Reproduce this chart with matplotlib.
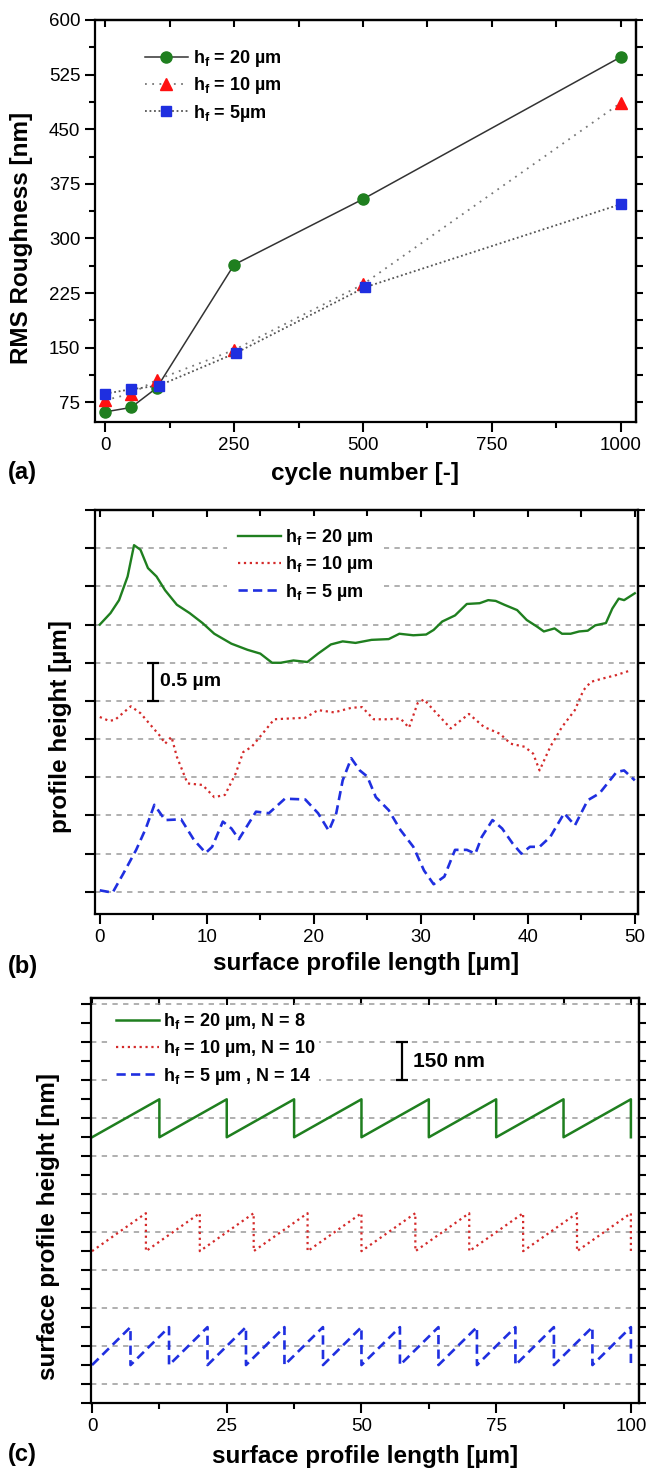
import matplotlib
matplotlib.use("Agg")
import matplotlib.pyplot as plt
from matplotlib.ticker import MultipleLocator

plt.rcParams['font.family'] = ['Liberation Sans', 'DejaVu Sans']
plt.rcParams['mathtext.default'] = 'regular'

# ---- (a) RMS roughness vs cycle number ----
cycles = [0, 50, 100, 250, 500, 1000]
cycles_5 = [0, 50, 104, 254, 504, 1000]
rms_20 = [62, 68, 95, 264, 354, 549]
rms_10 = [78, 87, 106, 147, 237, 486]
rms_5 = [87, 93, 98, 143, 233, 347]
labels_a = [r'h$_f$ = 20 µm', r'h$_f$ = 10 µm', r'h$_f$ = 5µm']

# ---- (b) measured surface profiles (offset, µm) ----
prof20_x = [0, 1.0, 1.8, 2.6, 3.2, 3.8, 4.5, 5.3, 6.1, 7.2, 8.4, 9.6, 10.7, 12.3, 13.8,
            15.0, 16.1, 16.9, 18.1, 19.4, 20.4, 21.6, 22.7, 23.9, 25.4, 27.0, 28.0, 29.3,
            30.5, 31.2, 32.0, 33.2, 34.3, 35.5, 36.3, 37.0, 37.8, 39.0, 39.9, 40.9, 41.5,
            42.5, 43.2, 44.0, 44.8, 45.6, 46.3, 47.3, 47.9, 48.5, 49.0, 50.0]
prof20_y = [3.50, 3.65, 3.82, 4.13, 4.54, 4.48, 4.24, 4.13, 3.95, 3.76, 3.65, 3.52, 3.38,
            3.25, 3.17, 3.12, 3.00, 3.00, 3.03, 3.01, 3.12, 3.24, 3.28, 3.26, 3.30, 3.31,
            3.38, 3.36, 3.37, 3.43, 3.54, 3.62, 3.77, 3.78, 3.82, 3.81, 3.76, 3.69, 3.56,
            3.47, 3.41, 3.45, 3.38, 3.38, 3.41, 3.42, 3.49, 3.52, 3.71, 3.84, 3.82, 3.91]

prof10_x = [0, 0.85, 1.4, 2.9, 3.8, 4.9, 5.7, 6.1, 6.7, 7.2, 8.2, 9.6, 10.7, 11.7, 12.7,
            13.4, 14.2, 15.2, 16.3, 17.7, 19.2, 20.4, 21.9, 23.5, 24.5, 25.6, 27.0, 28.1,
            28.9, 29.7, 30.3, 31.2, 32.8, 33.6, 34.5, 35.9, 37.4, 38.4, 39.7, 40.5, 41.1,
            42.1, 43.2, 44.4, 45.2, 45.9, 46.9, 48.3, 49.6]
prof10_y = [2.29, 2.24, 2.25, 2.43, 2.34, 2.16, 2.03, 1.94, 2.03, 1.77, 1.42, 1.40, 1.24,
            1.27, 1.55, 1.83, 1.90, 2.07, 2.26, 2.27, 2.28, 2.38, 2.35, 2.41, 2.42, 2.26,
            2.26, 2.27, 2.15, 2.47, 2.52, 2.38, 2.14, 2.23, 2.33, 2.16, 2.07, 1.94, 1.90,
            1.81, 1.59, 1.90, 2.16, 2.38, 2.64, 2.75, 2.79, 2.84, 2.90]

prof5_x = [0, 1.2, 2.2, 3.4, 4.3, 5.1, 6.1, 7.6, 8.8, 9.9, 10.5, 11.5, 12.3, 13.0, 14.6,
           15.8, 17.3, 19.2, 20.4, 21.4, 22.1, 22.7, 23.5, 24.3, 25.0, 25.8, 27.0, 28.1,
           29.3, 30.3, 31.2, 32.2, 33.2, 34.3, 35.1, 35.7, 36.7, 37.6, 38.6, 39.4, 40.2,
           41.1, 42.1, 43.4, 44.4, 45.6, 46.7, 48.3, 49.0, 50.0]
prof5_y = [0.02, -0.01, 0.24, 0.55, 0.83, 1.14, 0.94, 0.95, 0.68, 0.51, 0.59, 0.92, 0.83,
           0.69, 1.05, 1.03, 1.22, 1.21, 1.03, 0.80, 1.03, 1.46, 1.75, 1.59, 1.51, 1.24,
           1.07, 0.81, 0.59, 0.28, 0.10, 0.20, 0.55, 0.55, 0.50, 0.72, 0.94, 0.83, 0.63,
           0.50, 0.59, 0.59, 0.72, 1.03, 0.87, 1.20, 1.29, 1.57, 1.59, 1.46]
labels_b = [r'h$_f$ = 20 µm', r'h$_f$ = 10 µm', r'h$_f$ = 5 µm']

# ---- (c) idealised sawtooth profiles (offset, nm) ----
saw20_x = [0, 12.5, 12.5, 25, 25, 37.5, 37.5, 50, 50, 62.5, 62.5, 75, 75, 87.5, 87.5, 100, 100]
saw20_y = [975, 1125, 975, 1125, 975, 1125, 975, 1125, 975, 1125, 975, 1125, 975, 1125, 975,
           1125, 975]
saw10_x = [0, 10, 10, 20, 20, 30, 30, 40, 40, 50, 50, 60, 60, 70, 70, 80, 80, 90, 90, 100, 100]
saw10_y = [525, 675, 525, 675, 525, 675, 525, 675, 525, 675, 525, 675, 525, 675, 525, 675,
           525, 675, 525, 675, 525]
saw5_x = [0, 7.14, 7.14, 14.29, 14.29, 21.43, 21.43, 28.57, 28.57, 35.71, 35.71, 42.86, 42.86,
          50, 50, 57.14, 57.14, 64.29, 64.29, 71.43, 71.43, 78.57, 78.57, 85.71, 85.71,
          92.86, 92.86, 100, 100]
saw5_y = [75, 225, 75, 225, 75, 225, 75, 225, 75, 225, 75, 225, 75, 225, 75, 225, 75, 225,
          75, 225, 75, 225, 75, 225, 75, 225, 75, 225, 75]
labels_c = [r'h$_f$ = 20 µm, N = 8', r'h$_f$ = 10 µm, N = 10', r'h$_f$ = 5 µm , N = 14']

GREEN = '#1f7f1f'
RED = '#d42a2a'
BLUE = '#1f2fe0'
GRID = '#9a9a9a'
LBL = 17.5
TICK = 13.5
LEG = 13


def style(ax, xmaj, xmin, ymaj, ymin, yminor_len=4):
    ax.xaxis.set_major_locator(MultipleLocator(xmaj))
    ax.xaxis.set_minor_locator(MultipleLocator(xmin))
    ax.yaxis.set_major_locator(MultipleLocator(ymaj))
    ax.yaxis.set_minor_locator(MultipleLocator(ymin))
    ax.tick_params(which='both', direction='out', width=1.5, labelsize=TICK, pad=3.5)
    ax.tick_params(which='major', length=7)
    ax.tick_params(which='minor', length=4)
    ax.tick_params(axis='y', which='minor', length=yminor_len)
    for s in ax.spines.values():
        s.set_linewidth(1.6)
    top = ax.secondary_xaxis('top')
    top.xaxis.set_major_locator(MultipleLocator(xmin))
    top.tick_params(direction='in', length=5, width=1.5, labeltop=False)
    top.spines['top'].set_linewidth(1.6)
    right = ax.secondary_yaxis('right')
    right.yaxis.set_major_locator(MultipleLocator(ymin))
    right.tick_params(direction='out', length=5, width=1.5, labelright=False)
    right.spines['right'].set_linewidth(1.6)


fig = plt.figure(figsize=(6.47, 14.69), dpi=100)

# ---------------- panel (a) ----------------
ax1 = fig.add_axes([0.1468, 0.7127, 0.8362, 0.2737])
ax1.plot(cycles, rms_20, '-', color='#333333', lw=1.1, marker='o', ms=8,
         mfc=GREEN, mec=GREEN, label=labels_a[0])
ax1.plot(cycles, rms_10, linestyle=(0, (1, 3)), color='#777777', lw=1.3, marker='^', ms=9,
         mfc='#ff1010', mec='#ff1010', label=labels_a[1])
ax1.plot(cycles_5, rms_5, linestyle=(0, (1, 1.5)), color='#555555', lw=1.3, marker='s', ms=7.5,
         mfc=BLUE, mec=BLUE, label=labels_a[2])
ax1.set_xlim(-20, 1030)
ax1.set_ylim(48, 600)
style(ax1, 250, 125, 75, 37.5)
ax1.set_ylabel('RMS Roughness [nm]', fontsize=LBL, fontweight='bold')
ax1.set_xlabel('cycle number [-]', fontsize=LBL, fontweight='bold')
ax1.yaxis.set_label_coords(-0.115, 0.458)
ax1.xaxis.set_label_coords(0.5, -0.10)
ax1.legend(loc='upper left', bbox_to_anchor=(0.092, 0.93), frameon=False, numpoints=1,
           handlelength=2.4, handletextpad=0.25, labelspacing=0.35, borderpad=0,
           borderaxespad=0, prop={'size': LEG, 'weight': 'bold'})

# ---------------- panel (b) ----------------
ax2 = fig.add_axes([0.1468, 0.3778, 0.8393, 0.2750])
ax2.plot(prof20_x, prof20_y, '-', color=GREEN, lw=1.7, label=labels_b[0])
ax2.plot(prof10_x, prof10_y, ':', color=RED, lw=1.6, label=labels_b[1])
ax2.plot(prof5_x, prof5_y, color=BLUE, lw=1.9, dashes=(3.5, 2), label=labels_b[2])
ax2.set_xlim(-0.45, 50.3)
ax2.set_ylim(-0.29, 5.0)
style(ax2, 10, 5, 0.5, 0.5)
ax2.tick_params(axis='y', labelleft=False)
ax2.yaxis.grid(True, which='major', color=GRID, linestyle=(0, (3.5, 3.5)), lw=1.1)
ax2.errorbar([5.0], [2.75], yerr=[0.25], color='black', lw=1.6, capsize=4.3, capthick=1.6)
ax2.text(5.6, 2.75, '0.5 µm', fontsize=14, fontweight='bold', va='center', ha='left')
ax2.set_ylabel('profile height [µm]', fontsize=LBL, fontweight='bold')
ax2.set_xlabel('surface profile length [µm]', fontsize=LBL, fontweight='bold')
ax2.yaxis.set_label_coords(-0.042, 0.463)
ax2.xaxis.set_label_coords(0.5, -0.094)
leg2 = ax2.legend(loc='upper left', bbox_to_anchor=(0.243, 0.985), frameon=True,
                  handlelength=2.4, handletextpad=0.2, labelspacing=0.35, borderpad=0.6,
                  borderaxespad=0, fancybox=False, prop={'size': LEG, 'weight': 'bold'})
leg2.get_frame().set_edgecolor('none')
leg2.get_frame().set_facecolor('white')
leg2.get_frame().set_alpha(1)

# ---------------- panel (c) ----------------
ax3 = fig.add_axes([0.1414, 0.0449, 0.8462, 0.2757])
ax3.plot(saw20_x, saw20_y, '-', color=GREEN, lw=1.8, label=labels_c[0])
ax3.plot(saw10_x, saw10_y, ':', color=RED, lw=1.6, label=labels_c[1])
ax3.plot(saw5_x, saw5_y, color=BLUE, lw=1.9, dashes=(3.5, 2), label=labels_c[2])
ax3.set_xlim(-0.1, 101.5)
ax3.set_ylim(-75, 1525)
style(ax3, 25, 12.5, 150, 75, yminor_len=7)
ax3.tick_params(axis='y', labelleft=False)
ax3.yaxis.grid(True, which='major', color=GRID, linestyle=(0, (3.5, 3.5)), lw=1.1)
ax3.errorbar([57.5], [1275], yerr=[75], color='black', lw=1.6, capsize=4.3, capthick=1.6)
ax3.text(59.6, 1276, '150 nm', fontsize=15, fontweight='bold', va='center', ha='left')
ax3.set_ylabel('surface profile height [nm]', fontsize=LBL, fontweight='bold')
ax3.set_xlabel('surface profile length [µm]', fontsize=LBL, fontweight='bold')
ax3.yaxis.set_label_coords(-0.058, 0.435)
ax3.xaxis.set_label_coords(0.5, -0.104)
leg3 = ax3.legend(loc='upper left', bbox_to_anchor=(0.038, 0.977), frameon=True,
                  handlelength=2.4, handletextpad=0.2, labelspacing=0.35, borderpad=0.2,
                  borderaxespad=0, fancybox=False, prop={'size': LEG, 'weight': 'bold'})
leg3.get_frame().set_edgecolor('none')
leg3.get_frame().set_facecolor('white')
leg3.get_frame().set_alpha(1)

for lab, yc in [('(a)', 473), ('(b)', 967), ('(c)', 1455)]:
    fig.text(8 / 647, 1 - yc / 1469, lab, fontsize=17, fontweight='bold', va='center', ha='left')

fig.savefig('out.png', dpi=100)
